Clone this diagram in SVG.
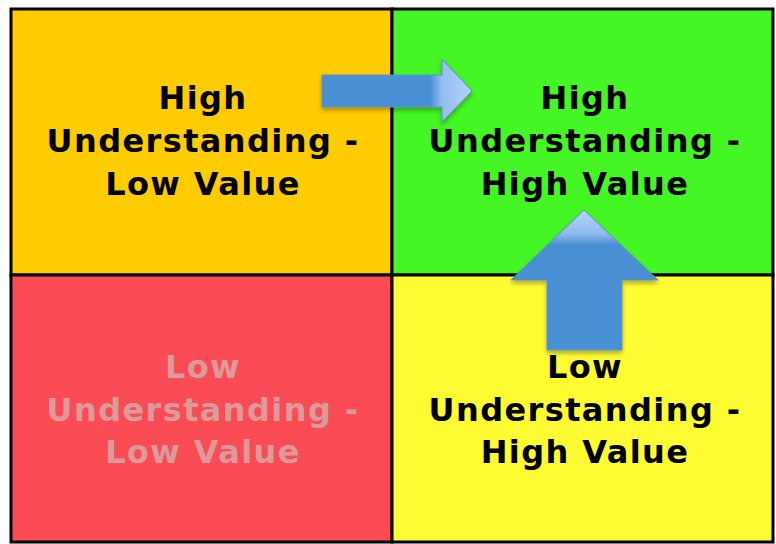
<svg xmlns="http://www.w3.org/2000/svg" width="776" height="544" viewBox="0 0 776 544">
  <style>
    .lbl { font-family: "DejaVu Sans", Verdana, sans-serif; font-weight: bold; font-size: 32px; letter-spacing: 1.4px; text-anchor: middle; fill: #000; }
    .faded { fill: #DC9A9A; }
    .cell { stroke: #000; stroke-width: 3; }
    .arrow { stroke: #5E8FD0; stroke-width: 1; }
  </style>
  <defs>
    <linearGradient id="gloss-right" gradientUnits="userSpaceOnUse" x1="322" y1="0" x2="472" y2="0">
      <stop offset="0" stop-color="#4A8FD4"/>
      <stop offset="0.72" stop-color="#4A8FD4"/>
      <stop offset="0.8" stop-color="#94BDF0"/>
      <stop offset="1" stop-color="#B4D4FB"/>
    </linearGradient>
    <linearGradient id="gloss-up" gradientUnits="userSpaceOnUse" x1="0" y1="210" x2="0" y2="350">
      <stop offset="0" stop-color="#B4D4FB"/>
      <stop offset="0.17" stop-color="#8FBAEE"/>
      <stop offset="0.25" stop-color="#4A8FD4"/>
      <stop offset="1" stop-color="#4A8FD4"/>
    </linearGradient>
    <filter id="soft-shadow" x="-20%" y="-20%" width="140%" height="140%">
      <feGaussianBlur in="SourceAlpha" stdDeviation="2"/>
      <feOffset dx="0" dy="3" result="b"/>
      <feComponentTransfer><feFuncA type="linear" slope="0.3"/></feComponentTransfer>
      <feMerge><feMergeNode/><feMergeNode in="SourceGraphic"/></feMerge>
    </filter>
  </defs>

  <rect x="0" y="0" width="776" height="544" fill="#fff"/>

  <g id="high-understanding-low-value">
    <rect class="cell" x="11" y="9" width="381" height="266" fill="#FFCC00"/>
    <text class="lbl" x="203" y="109">High</text>
    <text class="lbl" x="203" y="152">Understanding -</text>
    <text class="lbl" x="203" y="195">Low Value</text>
  </g>

  <g id="high-understanding-high-value">
    <rect class="cell" x="392" y="9" width="381" height="266" fill="#44F623"/>
    <text class="lbl" x="585" y="109">High</text>
    <text class="lbl" x="585" y="152">Understanding -</text>
    <text class="lbl" x="585" y="195">High Value</text>
  </g>

  <g id="low-understanding-low-value">
    <rect class="cell" x="11" y="275" width="381" height="267" fill="#FB4B55"/>
    <text class="lbl faded" x="203" y="378">Low</text>
    <text class="lbl faded" x="203" y="421">Understanding -</text>
    <text class="lbl faded" x="203" y="463">Low Value</text>
  </g>

  <g id="low-understanding-high-value">
    <rect class="cell" x="392" y="275" width="381" height="267" fill="#FFFB33"/>
    <text class="lbl" x="585" y="378">Low</text>
    <text class="lbl" x="585" y="421">Understanding -</text>
    <text class="lbl" x="585" y="463">High Value</text>
  </g>

  <g id="connectors" filter="url(#soft-shadow)">
    <path class="arrow" style="fill:url(#gloss-right)" d="M322 75 H442 V59 L472 91 L442 122 V107 H322 Z"/>
    <path class="arrow" style="fill:url(#gloss-up)" d="M584 210 L658 280 H622 V350 H547 V280 H511 Z"/>
  </g>
</svg>
